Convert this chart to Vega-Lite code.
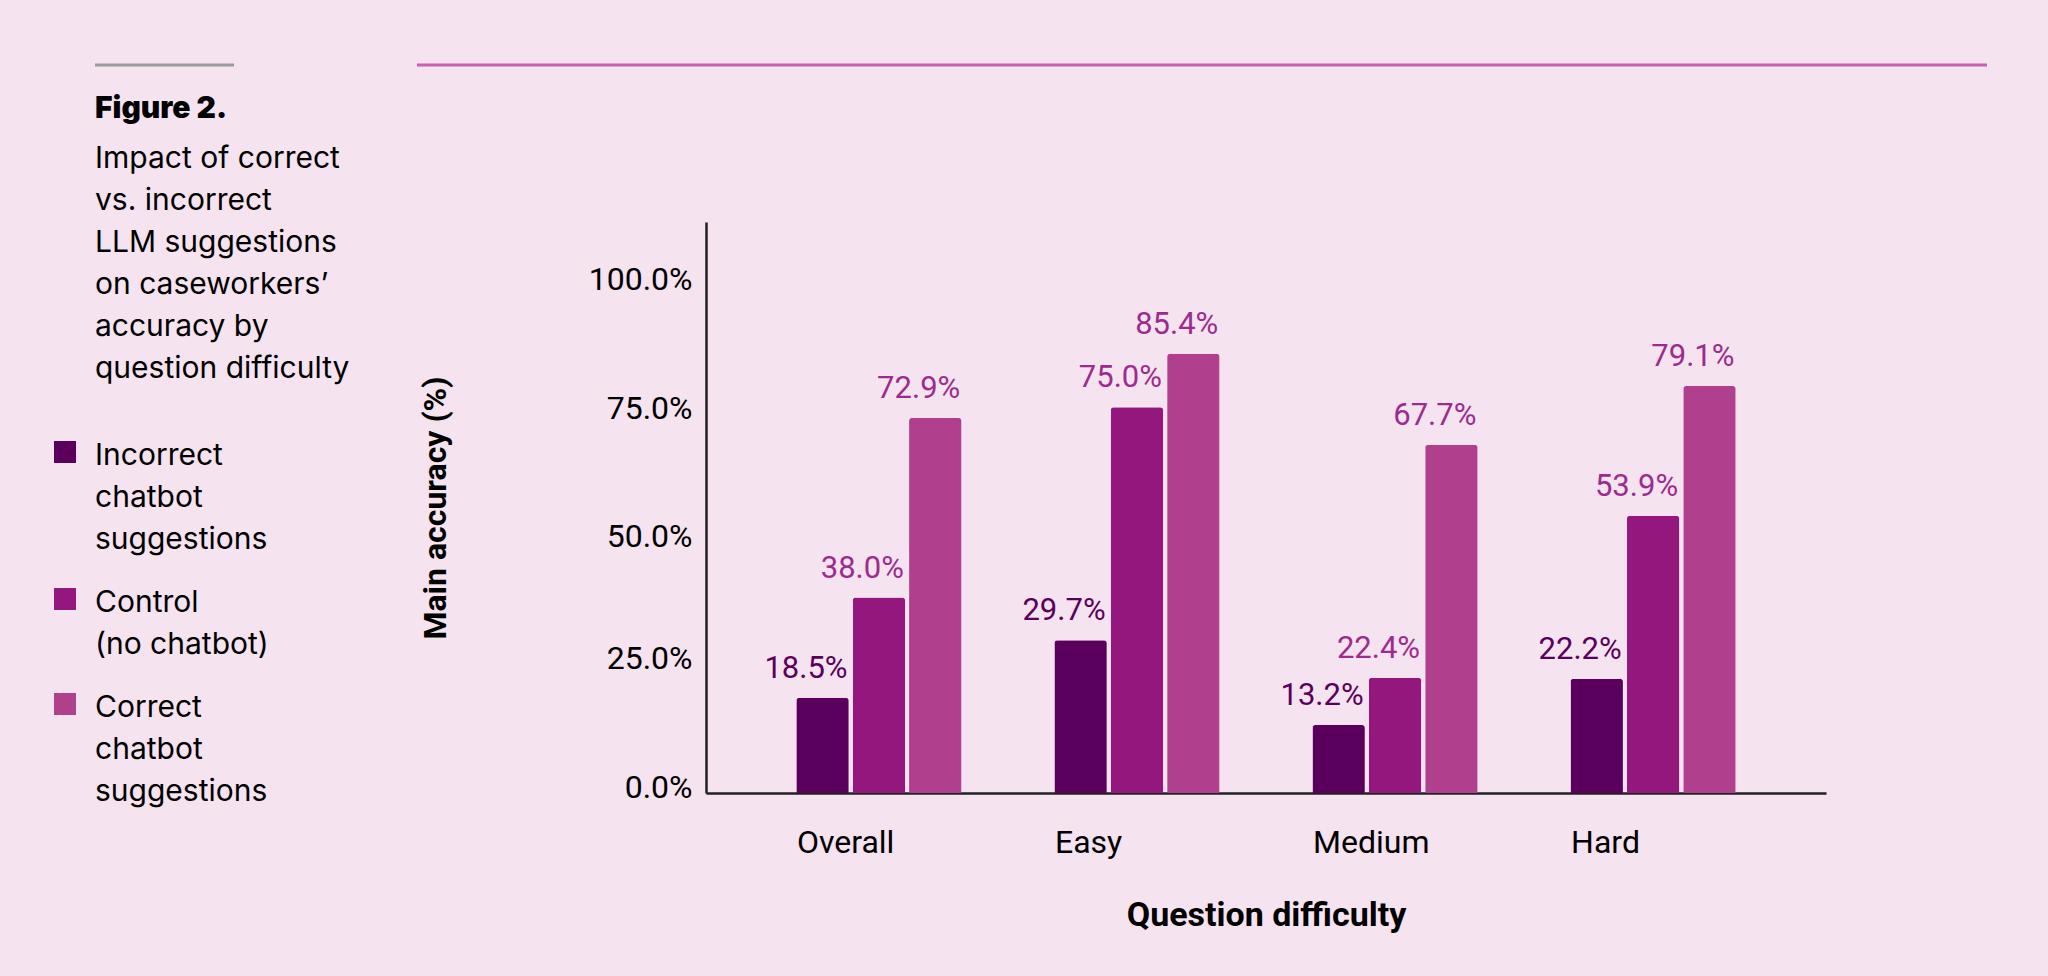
{
  "$schema": "https://vega.github.io/schema/vega-lite/v6.json",
  "autosize": {"type": "none"},
  "padding": {"left": 706, "top": 222, "right": 222, "bottom": 183},
  "width": 1120,
  "height": 571,
  "background": "#f5e3ef",
  "title": {
    "text": "Figure 2.",
    "subtitle": ["Impact of correct", "vs. incorrect", "LLM suggestions", "on caseworkers’", "accuracy by", "question difficulty"],
    "orient": "top",
    "anchor": "start",
    "frame": "group",
    "dx": -611,
    "dy": 320,
    "offset": 0,
    "font": "Inter",
    "fontSize": 30,
    "fontWeight": 900,
    "color": "#000000",
    "subtitleFont": "Inter",
    "subtitleFontSize": 30,
    "subtitleLineHeight": 42,
    "subtitleColor": "#000000",
    "subtitlePadding": 20
  },
  "config": {
    "view": {"stroke": null},
    "axis": {"labelColor": "#000000", "titleColor": "#000000"},
    "style": {"guide-label": {"lineHeight": 42}}
  },
  "data": {
    "values": [
      {"difficulty": "Overall", "group": "Incorrect chatbot suggestions", "accuracy": 0.185},
      {"difficulty": "Overall", "group": "Control (no chatbot)", "accuracy": 0.380},
      {"difficulty": "Overall", "group": "Correct chatbot suggestions", "accuracy": 0.729},
      {"difficulty": "Easy", "group": "Incorrect chatbot suggestions", "accuracy": 0.297},
      {"difficulty": "Easy", "group": "Control (no chatbot)", "accuracy": 0.750},
      {"difficulty": "Easy", "group": "Correct chatbot suggestions", "accuracy": 0.854},
      {"difficulty": "Medium", "group": "Incorrect chatbot suggestions", "accuracy": 0.132},
      {"difficulty": "Medium", "group": "Control (no chatbot)", "accuracy": 0.224},
      {"difficulty": "Medium", "group": "Correct chatbot suggestions", "accuracy": 0.677},
      {"difficulty": "Hard", "group": "Incorrect chatbot suggestions", "accuracy": 0.222},
      {"difficulty": "Hard", "group": "Control (no chatbot)", "accuracy": 0.539},
      {"difficulty": "Hard", "group": "Correct chatbot suggestions", "accuracy": 0.791}
    ]
  },
  "layer": [
    {
      "encoding": {
        "x": {
          "field": "difficulty",
          "type": "nominal",
          "sort": ["Overall", "Easy", "Medium", "Hard"],
          "scale": {"paddingInner": 0.36, "paddingOuter": 0.35},
          "axis": {
            "title": "Question difficulty",
            "titleFont": "Roboto",
            "titleFontWeight": "bold",
            "titleFontSize": 34,
            "titlePadding": 40,
            "labelFont": "Roboto",
            "labelFontSize": 32,
            "labelAngle": 0,
            "labelAlign": "left",
            "labelBaseline": "top",
            "labelPadding": 34,
            "labelOffset": -82,
            "ticks": false,
            "domainColor": "#222222",
            "domainWidth": 2.5
          }
        },
        "xOffset": {
          "field": "group",
          "type": "nominal",
          "sort": ["Incorrect chatbot suggestions", "Control (no chatbot)", "Correct chatbot suggestions"],
          "scale": {"paddingInner": 0.07, "paddingOuter": 0}
        },
        "y": {
          "field": "accuracy",
          "type": "quantitative",
          "scale": {"domain": [0, 1.11], "nice": false},
          "axis": {
            "title": "Main accuracy (%)",
            "titleFont": "Roboto",
            "titleFontWeight": "bold",
            "titleFontSize": 32,
            "titlePadding": 136,
            "values": [0, 0.25, 0.5, 0.75, 1],
            "format": ".1%",
            "labelFont": "Roboto",
            "labelFontSize": 32,
            "labelPadding": 14,
            "labelOffset": {"condition": {"test": "datum.value < 0.4", "value": -6}, "value": 1},
            "ticks": false,
            "grid": false,
            "domainColor": "#222222",
            "domainWidth": 2.5
          }
        }
      },
      "layer": [
        {
          "mark": {"type": "bar", "cornerRadiusTopLeft": 3, "cornerRadiusTopRight": 3},
          "encoding": {
            "color": {
              "field": "group",
              "type": "nominal",
              "scale": {
                "domain": ["Incorrect chatbot suggestions", "Control (no chatbot)", "Correct chatbot suggestions"],
                "range": ["#5a005c", "#93177d", "#b0408d"]
              },
              "legend": {
                "orient": "none",
                "legendX": -656,
                "legendY": 204,
                "title": null,
                "padding": 0,
                "symbolType": "M-1,0H1V2H-1Z",
                "symbolSize": 484,
                "symbolStrokeWidth": 0,
                "symbolOpacity": 1,
                "labelFont": "Inter",
                "labelFontSize": 30,
                "labelColor": "#000000",
                "labelBaseline": "top",
                "labelOffset": 15,
                "labelLimit": 400,
                "rowPadding": 18,
                "labelExpr": "datum.label == 'Incorrect chatbot suggestions' ? ['Incorrect', 'chatbot', 'suggestions'] : datum.label == 'Control (no chatbot)' ? ['Control', '(no chatbot)'] : ['Correct', 'chatbot', 'suggestions']"
              }
            }
          }
        },
        {
          "mark": {"type": "text", "align": "right", "baseline": "alphabetic", "dx": 25, "dy": -20, "font": "Roboto", "fontSize": 31},
          "encoding": {
            "text": {"field": "accuracy", "type": "quantitative", "format": ".1%"},
            "color": {
              "condition": {"test": "datum.group === 'Incorrect chatbot suggestions'", "value": "#5a005c"},
              "value": "#9d2b8e"
            }
          }
        }
      ]
    },
    {
      "data": {"values": [{}]},
      "mark": {"type": "rule", "color": "#9b9b9b", "strokeWidth": 3},
      "encoding": {"x": {"value": -611}, "x2": {"value": -472}, "y": {"value": -157}}
    },
    {
      "data": {"values": [{}]},
      "mark": {"type": "rule", "color": "#c85fb0", "strokeWidth": 3},
      "encoding": {"x": {"value": -289}, "x2": {"value": 1281}, "y": {"value": -157}}
    }
  ]
}
